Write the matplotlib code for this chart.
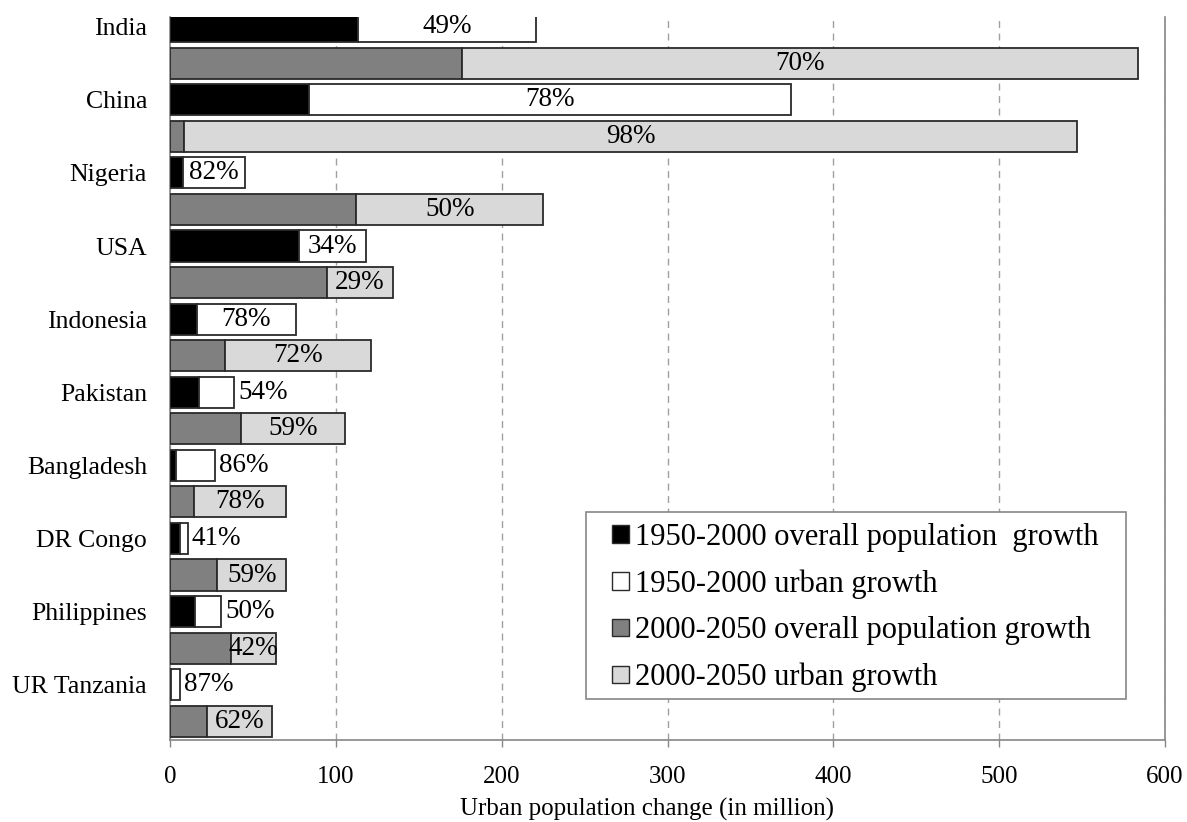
import numpy as np
import matplotlib
matplotlib.use("Agg")
from matplotlib import pyplot as plt
from matplotlib.patches import Patch, Rectangle

plt.rcParams["font.family"] = ["Liberation Serif", "DejaVu Serif"]

# values (million people)
countries = ["India", "China", "Nigeria", "USA", "Indonesia", "Pakistan",
             "Bangladesh", "DR Congo", "Philippines", "UR Tanzania"]
overall_1950 = [113.5, 83.7, 8.0, 77.7, 16.1, 17.5, 3.4, 6.3, 15.3, 0.8]
urban_1950 = [220.6, 374.2, 45.4, 118.1, 75.8, 38.8, 27.1, 10.7, 30.6, 6.2]
overall_2050 = [176.3, 8.5, 112.4, 94.4, 33.0, 42.6, 14.5, 28.5, 36.6, 22.5]
urban_2050 = [584.0, 547.0, 225.0, 134.5, 121.0, 105.7, 70.0, 70.0, 64.1, 61.3]
pct_1950 = ["49%", "78%", "82%", "34%", "78%", "54%", "86%", "41%", "50%", "87%"]
pct_2050 = ["70%", "98%", "50%", "29%", "72%", "59%", "78%", "59%", "42%", "62%"]
legend_labels = [
    "1950-2000 overall population  growth",
    "1950-2000 urban growth",
    "2000-2050 overall population growth",
    "2000-2050 urban growth",
]

colors = ["#000000", "#ffffff", "#808080", "#d9d9d9"]
edge = "#2a2a2a"
grey = "#868686"
W, H = 1187, 822
ax_top, ax_bot = 16.7, 739.5

fig = plt.figure(figsize=(W / 100, H / 100), dpi=100)
ax = fig.add_axes([170 / W, 1 - ax_bot / H, 995 / W, (ax_bot - ax_top) / H])

n = len(countries)
y1 = np.arange(n) * 2
y2 = y1 + 1
h = 0.85

o1 = np.array(overall_1950)
u1 = np.array(urban_1950)
o2 = np.array(overall_2050)
u2 = np.array(urban_2050)

bar_kw = dict(height=h, edgecolor=edge, linewidth=1.3, zorder=3)
ax.barh(y1, o1, color=colors[0], **bar_kw)
ax.barh(y1, u1 - o1, left=o1, color=colors[1], **bar_kw)
ax.barh(y2, o2, color=colors[2], **bar_kw)
ax.barh(y2, u2 - o2, left=o2, color=colors[3], **bar_kw)

# percentage labels: centred in the urban segment, or just after the bar if too narrow
for i in range(n):
    seg = u1[i] - o1[i]
    if seg < 30:
        ax.text(u1[i] + 2.5, y1[i], pct_1950[i], ha="left", va="center",
                fontsize=19.5, zorder=4)
    else:
        ax.text((o1[i] + u1[i]) / 2, y1[i], pct_1950[i], ha="center",
                va="center", fontsize=19.5, zorder=4)
    ax.text((o2[i] + u2[i]) / 2, y2[i], pct_2050[i], ha="center", va="center",
            fontsize=19.5, zorder=4)

ax.set_xlim(0, 600)
ax.set_ylim(19.50, -0.273)
ax.set_xticks(np.arange(0, 601, 100))
ax.set_yticks(y1)
ax.set_yticklabels(countries)
ax.tick_params(axis="y", length=0, pad=16.5, labelsize=18.5)
ax.tick_params(axis="x", length=5, width=1, color=grey, pad=14, labelsize=18)

ax.grid(axis="x", linestyle=(0, (5, 4)), color="#a0a0a0", linewidth=1, zorder=0)
for s in ["left", "bottom", "right"]:
    ax.spines[s].set_color(grey)
    ax.spines[s].set_linewidth(1.2)
ax.spines["top"].set_visible(False)

ax.set_xlabel("Urban population change (in million)", fontsize=18)
ax.xaxis.set_label_coords(0.479, -(816 - ax_bot) / (ax_bot - ax_top))
ax.xaxis.label.set_va("baseline")

# legend: frame drawn separately so the inner padding can match the reference
fig.patches.append(Rectangle((586 / W, 1 - 699 / H), 540 / W, 187 / H,
                             transform=fig.transFigure, facecolor="white",
                             edgecolor=grey, linewidth=1.2, zorder=5))
handles = [Patch(facecolor=c, edgecolor=edge, linewidth=1) for c in colors]
leg = fig.legend(handles, legend_labels, loc="upper left",
                 bbox_to_anchor=(612 / W, 1 - 523 / H), fontsize=22,
                 frameon=False, handlelength=0.55, handleheight=0.5,
                 handletextpad=0.2, borderpad=0, labelspacing=0.57,
                 borderaxespad=0)
leg.set_zorder(6)

fig.savefig("out.png", dpi=100)
